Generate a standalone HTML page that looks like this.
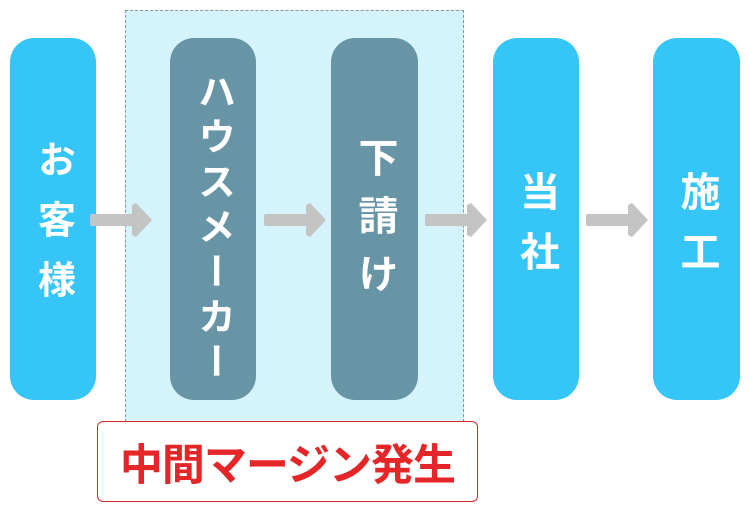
<!DOCTYPE html>
<html><head><meta charset="utf-8"><style>
body{margin:0;width:748px;height:517px;background:#fff;position:relative;overflow:hidden;font-family:"Liberation Sans","Noto Sans CJK JP",sans-serif;}
.a{position:absolute}
.dash{left:125px;top:10px;width:339px;height:412px;background:#d5f3fc;border:1px dashed #7a9aa8;box-sizing:border-box}
.box{position:absolute;top:38px;width:86px;height:362px;border-radius:24px;display:flex;align-items:center;justify-content:center;color:#fff;font-weight:bold}
.v{writing-mode:vertical-rl;text-orientation:upright;font-weight:bold;color:#fff}
.blue{background:#35c5f7}.gray{background:#6795a6}
.red{left:97px;top:421px;width:381px;height:81px;border:1.5px solid #e52629;border-radius:6px;background:#fff;box-sizing:border-box;display:flex;align-items:center;justify-content:center;color:#e52629;font-weight:bold;font-size:43px;letter-spacing:-1px}
</style></head><body>
<div class="a dash"></div>
<div class="box blue" style="left:10px"><div class="v" style="font-size:38px;letter-spacing:22px;margin-top:22px">お客様</div></div>
<div class="box gray" style="left:170px"><div class="v" style="font-size:38px;letter-spacing:7px;margin-top:20px">ハウスメーカー</div></div>
<div class="box gray" style="left:331px;width:87px"><div class="v" style="font-size:40px;letter-spacing:18px;margin-top:10px">下請け</div></div>
<div class="box blue" style="left:493px"><div class="v" style="font-size:40px;letter-spacing:20px;margin-top:24px">当社</div></div>
<div class="box blue" style="left:653px;width:87px"><div class="v" style="font-size:40px;letter-spacing:20px;margin-top:24px">施工</div></div>
<svg class="a" style="left:0;top:0" width="748" height="517">
<g fill="#c4c4c4">
<g id="ar"><rect x="90" y="214" width="46" height="12" rx="2"/><path d="M132 205 L136 203 L152 220 L136 237 L132 235 Z"/></g>
<use href="#ar" x="174"/><use href="#ar" x="335"/><use href="#ar" x="496"/>
</g></svg>
<div class="a red">中間マージン発生</div>
</body></html>
